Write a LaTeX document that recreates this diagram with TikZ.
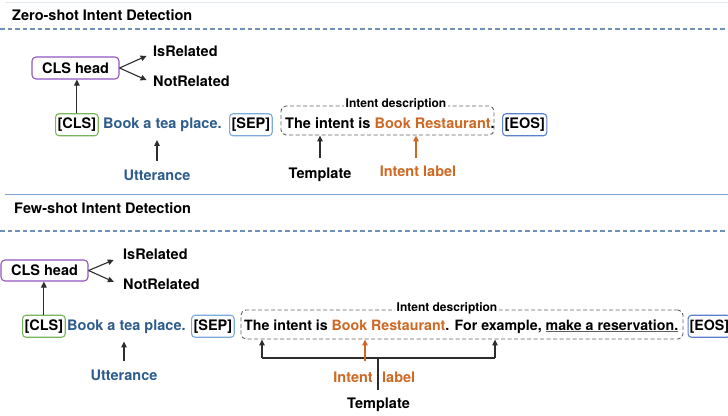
\documentclass[tikz,border=0pt]{standalone}
\usepackage{fontspec}
\setmainfont{TeX Gyre Heros}
\usetikzlibrary{arrows.meta,calc}
\definecolor{utblue}{RGB}{45,92,140}
\definecolor{intor}{RGB}{206,104,35}
\definecolor{clspur}{RGB}{145,85,190}
\definecolor{clsgreen}{RGB}{120,180,90}
\definecolor{sepblue}{RGB}{125,170,222}
\definecolor{eosblue}{RGB}{88,128,205}
\definecolor{seplinec}{RGB}{125,163,212}
\definecolor{dashlinec}{RGB}{110,145,185}
\definecolor{faintc}{RGB}{222,230,240}
\definecolor{arrc}{RGB}{45,45,45}
\definecolor{descc}{RGB}{95,95,95}
\newcommand{\greyul}[1]{{\color{descc}\rlap{\underline{\phantom{#1}}}}#1}
\tikzset{
  txt/.style={font=\fontsize{14.5}{16}\selectfont\bfseries, inner xsep=0pt, inner ysep=4.25pt, text height=10.5pt, text depth=3pt},
  tok/.style={txt, draw, line width=1.1pt, rounded corners=3.5pt, inner xsep=2pt},
  headbox/.style={draw=clspur, line width=1.1pt, rounded corners=4pt, minimum width=87pt, font=\fontsize{14.5}{16}\selectfont\bfseries, inner sep=0pt, text height=10.5pt, text depth=0pt},
  descbox/.style={draw=descc, dashed, dash pattern=on 4pt off 2.5pt, line width=0.9pt, rounded corners=5pt, minimum height=29pt, inner sep=0pt},
  desclab/.style={font=\fontsize{12}{13}\selectfont\bfseries, fill=white, inner xsep=2pt, inner ysep=1pt},
  arr/.style={draw=arrc, line width=1.1pt, -{Triangle[width=5.5pt,length=6pt]}},
  oarr/.style={draw=intor, line width=1.1pt, -{Triangle[width=5.5pt,length=6pt]}},
  sepline/.style={draw=seplinec, line width=1.4pt},
  dashline/.style={draw=dashlinec, line width=1.1pt, dash pattern=on 4.5pt off 3pt},
}
\begin{document}
\begin{tikzpicture}[x=1pt,y=-1pt]
\useasboundingbox (0,0) rectangle (728,415);
% separators
\draw[faintc, line width=1pt] (5,2) -- (728,2);
\draw[dashline] (0,29) -- (728,29);
\draw[sepline] (5,194.5) -- (728,194.5);
\draw[dashline] (0,231) -- (728,231);

% ===== Zero-shot =====
\node[txt, anchor=base west] (title1) at (12,20.5) {Zero-shot Intent Detection};
\node[headbox, minimum height=22pt] (h1) at (75.5,68) {CLS head};
\node[txt, anchor=west] (ir1) at (153,53) {IsRelated};
\node[txt, anchor=west] (nr1) at (153,83) {NotRelated};
\node[tok, draw=clsgreen, anchor=base west] (c1) at (55,128.5) {[CLS]};
\node[txt, text=utblue, anchor=base west] (b1) at (103,128.5) {Book a tea place.};
\node[tok, draw=sepblue, anchor=base west] (s1) at (229,128.5) {[SEP]};
\node[descbox, minimum width=213pt] (d1) at (387.5,120.5) {};
\node[desclab] (lab1) at (396,104.5) {Intent description};
\node[txt, anchor=base west] (td1) at (285,128.5) {The intent is \textcolor{intor}{Book Restaurant}.};
\node[tok, draw=eosblue, anchor=base west] (e1) at (502,128.5) {[EOS]};
\node[txt, text=utblue, anchor=base] (u1) at (157,180) {Utterance};
\node[txt, anchor=base] (t1) at (320,178.5) {Template};
\node[txt, text=intor, anchor=base] (il1) at (418,176.5) {Intent label};

\draw[arr] (c1.north) -- (c1.north |- h1.south);
\draw[arr, shorten >=7pt] (h1.east) -- (ir1.west);
\draw[arr, shorten >=7pt] (h1.east) -- (nr1.west);
\draw[arr, shorten <=4pt] (u1.north) -- ($(u1.north |- b1.south)+(0,4)$);
\draw[arr, shorten <=6pt] (t1.north) -- (t1.north |- d1.south);
\draw[oarr, shorten <=4pt] ([xshift=-2pt]il1.north) -- ([xshift=-2pt]il1.north |- d1.south);

% ===== Few-shot =====
\node[txt, anchor=base west] (title2) at (14,213) {Few-shot Intent Detection};
\node[headbox, minimum height=21pt] (h2) at (44.5,270.5) {CLS head};
\node[txt, anchor=west] (ir2) at (123,256) {IsRelated};
\node[txt, anchor=west] (nr2) at (123,286) {NotRelated};
\node[tok, draw=clsgreen, anchor=base west] (c2) at (22,330) {[CLS]};
\node[txt, text=utblue, anchor=base west] (b2) at (67,330) {Book a tea place.};
\node[tok, draw=sepblue, anchor=base west] (s2) at (191,330) {[SEP]};
\node[descbox, minimum width=442pt] (d2) at (462,324.5) {};
\node[desclab] (lab2) at (447,308.5) {Intent description};
\node[txt, font=\fontsize{14.2}{16}\selectfont\bfseries, anchor=base west] (td2) at (244,330) {The intent is \textcolor{intor}{Book Restaurant}. For example, \greyul{make a reservation.}};
\node[tok, draw=eosblue, font=\fontsize{14.2}{16}\selectfont\bfseries, inner xsep=1.5pt, anchor=base west] (e2) at (687.5,330) {[EOS]};
\node[txt, text=utblue, anchor=base] (u2) at (124,380) {Utterance};
\node[txt, text=intor, anchor=base east] (il2a) at (373,382) {Intent};
\node[txt, text=intor, anchor=base west] (il2b) at (382,382) {label};
\node[txt, anchor=base] (t2) at (378.5,408) {Template};

\coordinate (brL) at (262,358);
\coordinate (brR) at (495,358);
\coordinate (tstem) at (378,390);
\coordinate (ilarr) at (365,361);

\draw[arr] (c2.north) -- (c2.north |- h2.south);
\draw[arr, shorten >=10pt] (h2.east) -- (ir2.west);
\draw[arr, shorten >=10pt] (h2.east) -- (nr2.west);
\draw[arr, shorten <=4pt] (u2.north) -- ($(u2.north |- b2.south)+(0,4)$);
\draw[arrc, line width=1.1pt] (brL) -- (brR);
\draw[arrc, line width=1.1pt] (tstem) -- (tstem |- brL);
\draw[arr] (brL) -- (brL |- d2.south);
\draw[arr] (brR) -- (brR |- d2.south);
\draw[oarr] (ilarr) -- (ilarr |- d2.south);
\end{tikzpicture}
\end{document}
